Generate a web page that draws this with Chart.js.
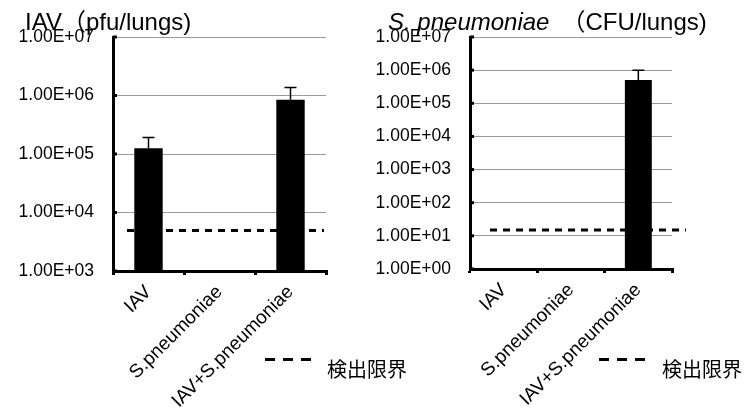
<!DOCTYPE html>
<html lang="ja">
<head>
  <meta charset="UTF-8">
  <title>IAV / S. pneumoniae lung titers</title>
  <script src="https://cdn.jsdelivr.net/npm/chart.js"></script>
  <style>
    body { margin: 0; background: #fff; font-family: "Liberation Sans", Arial, "Noto Sans CJK JP", sans-serif; }
    .wrap { position: relative; width: 746px; height: 414px; overflow: hidden; }
    .box { position: absolute; top: 0; }
    .title { position: absolute; white-space: nowrap; font-size: 24px; line-height: 24px; color: #000; }
    .legend { position: absolute; }
    .legend .dash { width: 47px; height: 3px; background: repeating-linear-gradient(to right, #000 0 10px, transparent 10px 18px); }
    .legend .txt { position: absolute; top: 0px; font-family: "Noto Sans CJK JP", sans-serif; font-size: 20px; line-height: 22px; white-space: nowrap; }
  </style>
</head>
<body>
<div class="wrap">
  <div class="box" style="left:0; width:373px; height:414px;"><canvas id="iavChart" width="373" height="414"></canvas></div>
  <div class="box" style="left:360px; width:386px; height:414px;"><canvas id="spChart" width="386" height="414"></canvas></div>

  <div class="title" style="left:25px; top:10px;">IAV（pfu/lungs)</div>
  <div class="title" style="left:388px; top:10px;"><i>S. pneumoniae</i>　（CFU/lungs)</div>

  <div class="legend" style="left:265px; top:358px;"><div class="dash"></div><div class="txt" style="left:62px;">検出限界</div></div>
  <div class="legend" style="left:599px; top:358px;"><div class="dash"></div><div class="txt" style="left:63px;">検出限界</div></div>
</div>

<script>
  // data
  const categories = ['IAV', 'S.pneumoniae', 'IAV+S.pneumoniae'];

  const iavTiter = [1.25e5, null, 8.45e5];
  const iavErrTop = [1.92e5, null, 1.37e6];
  const iavLimit = 4.9e3;
  const iavTickValues = [1e3, 1e4, 1e5, 1e6, 1e7];

  const spTiter = [null, null, 5.0e5];
  const spErrTop = [null, null, 1.0e6];
  const spLimit = 1.5e1;
  const spTickValues = [1e0, 1e1, 1e2, 1e3, 1e4, 1e5, 1e6, 1e7];

  function sciLabel(v) {
    const e = Math.round(Math.log10(v));
    const m = v / Math.pow(10, e);
    const ee = (e < 10 ? '0' : '') + e;
    return m.toFixed(2) + 'E+' + ee;
  }

  // error bars, inward y ticks, detection limit line
  const extras = {
    id: 'extras',
    afterDatasetsDraw(chart, args, opts) {
      const ctx = chart.ctx;
      const y = chart.scales.y;
      const area = chart.chartArea;
      const meta = chart.getDatasetMeta(0);
      ctx.save();

      // error bars (upper only)
      ctx.strokeStyle = '#000';
      ctx.lineWidth = 1.5;
      opts.errTop.forEach((v, i) => {
        if (v == null) return;
        const bar = meta.data[i];
        const yt = y.getPixelForValue(v);
        ctx.beginPath();
        ctx.moveTo(bar.x, bar.y);
        ctx.lineTo(bar.x, yt);
        ctx.moveTo(bar.x - 6, yt);
        ctx.lineTo(bar.x + 6, yt);
        ctx.stroke();
      });

      // small tick marks on inner side of y axis
      ctx.fillStyle = '#000';
      y.ticks.forEach(t => {
        const py = y.getPixelForValue(t.value);
        ctx.fillRect(area.left, py - 1.5, 4, 3);
      });

      // detection limit
      const ly = y.getPixelForValue(opts.limit);
      ctx.setLineDash([7, 6]);
      ctx.lineWidth = 3;
      ctx.beginPath();
      ctx.moveTo(area.left + opts.dashFrom, ly);
      ctx.lineTo(area.right + opts.dashTo, ly);
      ctx.stroke();
      ctx.restore();
    }
  };

  function makeChart(id, values, errTop, limit, tickValues, yWidth, xHeight, padRight, dashFrom, dashTo) {
    return new Chart(document.getElementById(id), {
      type: 'bar',
      data: {
        labels: categories,
        datasets: [{
          data: values,
          backgroundColor: '#000',
          borderWidth: 0,
          barPercentage: 0.4,
          categoryPercentage: 1.0
        }]
      },
      options: {
        responsive: false,
        animation: false,
        devicePixelRatio: 1,
        layout: { padding: { left: 0, top: 37, right: padRight, bottom: 0 } },
        plugins: {
          legend: { display: false },
          tooltip: { enabled: false },
          extras: { errTop: errTop, limit: limit, dashFrom: dashFrom, dashTo: dashTo }
        },
        scales: {
          x: {
            afterFit(scale) { scale.height = xHeight; },
            border: { color: '#000', width: 3 },
            grid: { drawOnChartArea: false, color: '#000', lineWidth: 3, tickLength: 4 },
            ticks: {
              autoSkip: false,
              minRotation: 45,
              maxRotation: 45,
              padding: 6,
              color: '#000',
              font: { family: '"Liberation Sans", Arial, sans-serif', size: 19 }
            }
          },
          y: {
            type: 'logarithmic',
            min: tickValues[0],
            max: tickValues[tickValues.length - 1],
            afterFit(scale) { scale.width = yWidth; },
            afterBuildTicks(scale) { scale.ticks = tickValues.map(v => ({ value: v })); },
            border: { color: '#000', width: 3 },
            grid: { color: '#999', lineWidth: 1, drawTicks: false },
            ticks: {
              padding: 19,
              color: '#000',
              font: { family: '"Liberation Sans", Arial, sans-serif', size: 17.5 },
              callback: v => sciLabel(v)
            }
          }
        }
      },
      plugins: [extras]
    });
  }

  makeChart('iavChart', iavTiter, iavErrTop, iavLimit, iavTickValues, 113, 143, 47, 14, -2);
  makeChart('spChart', spTiter, spErrTop, spLimit, spTickValues, 110, 145, 74, 20, 14);
</script>
</body>
</html>
